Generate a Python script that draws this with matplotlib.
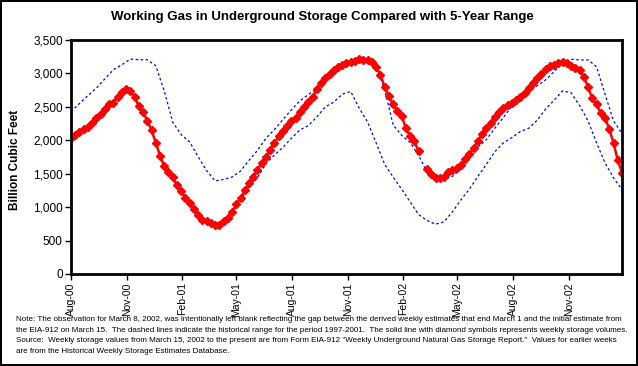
import numpy as np
import pandas as pd
import matplotlib
matplotlib.use("Agg")
import matplotlib.pyplot as plt
import matplotlib.dates as mdates
from matplotlib.ticker import MultipleLocator, FuncFormatter

# weekly Fridays, Aug 4 2000 .. Jan 31 2003 (Mar 8 2002 intentionally blank)
weeks = pd.date_range("2000-08-04", "2003-01-31", freq="7D")

storage = [
    2030, 2085, 2130, 2165, 2200, 2265, 2330, 2400, 2475, 2540,
    2565, 2645, 2715, 2760, 2740, 2650, 2510, 2420, 2295, 2150,
    1965, 1770, 1610, 1520, 1445, 1325, 1235, 1140, 1062, 968,
    885, 808, 795, 770, 735, 728, 790, 838, 930, 1040,
    1135, 1250, 1355, 1450, 1555, 1660, 1755, 1860, 1960, 2060,
    2135, 2218, 2288, 2339, 2419, 2500, 2580, 2650, 2760, 2850,
    2925, 2985, 3055, 3100, 3127, 3150, 3170, 3190, 3212, 3205,
    3202, 3172, 3095, 2980, 2800, 2660, 2540, 2440, 2368, 2180,
    2065, 1990, 1835, np.nan, 1566, 1490, 1435, 1431, 1456, 1521,
    1550, 1585, 1635, 1715, 1795, 1878, 1995, 2090, 2178, 2265,
    2344, 2420, 2488, 2530, 2555, 2605, 2645, 2705, 2775, 2855,
    2925, 2990, 3065, 3107, 3133, 3160, 3177, 3152, 3105, 3088,
    3055, 2950, 2790, 2625, 2540, 2404, 2335, 2170, 1960, 1700,
    1516,
]

# 5-year range (1997-2001), read every second week
range_weeks = weeks[::2]
range_max = [
    2429, 2550, 2670, 2780, 2920, 3055, 3130, 3215, 3205, 3205,
    3115, 2740, 2270, 2085, 1975, 1755, 1545, 1392, 1415, 1450,
    1540, 1700, 1850, 2030, 2160, 2310, 2455, 2590, 2685, 2765,
    2930, 3055, 3130, 3175, 3210, 3205, 3090, 2760, 2230, 2075,
    1968, 1775, 1525, 1398, 1422, 1460, 1570, 1730, 1900, 2010,
    2180, 2340, 2510, 2630, 2765, 2815, 2905, 3030, 3150, 3212,
    3202, 3202, 3100, 2690, 2290, 2100,
]
range_min = [
    2030, 2125, 2195, 2325, 2470, 2560, 2710, 2740, 2510, 2300,
    1975, 1610, 1445, 1235, 1065, 885, 795, 735, 790, 925,
    1110, 1300, 1440, 1650, 1780, 1895, 2030, 2155, 2220, 2350,
    2500, 2570, 2690, 2730, 2480, 2270, 1960, 1640, 1450, 1270,
    1080, 890, 800, 745, 780, 930, 1110, 1270, 1460, 1640,
    1830, 1960, 2040, 2130, 2180, 2300, 2470, 2600, 2740, 2710,
    2520, 2290, 1960, 1660, 1440, 1260,
]

TITLE = "Working Gas in Underground Storage Compared with 5-Year Range"
NOTE = ("Note: The observation for March 8, 2002, was intentionally left blank reflecting the gap between the derived weekly estimates that end March 1 and the initial estimate from\n"
        "the EIA-912 on March 15.  The dashed lines indicate the historical range for the period 1997-2001.  The solid line with diamond symbols represents weekly storage volumes.\n"
        "Source:  Weekly storage values from March 15, 2002 to the present are from Form EIA-912 \"Weekly Underground Natural Gas Storage Report.\"  Values for earlier weeks\n"
        "are from the Historical Weekly Storage Estimates Database.")

plt.rcParams['font.family'] = ['Liberation Sans', 'DejaVu Sans']

fig = plt.figure(figsize=(6.38, 3.66), dpi=100)
fig.patch.set_facecolor('white')
fig.patch.set_edgecolor('black')
fig.patch.set_linewidth(1.5)

ax = fig.add_axes([71 / 638, 1 - 274 / 366, 551 / 638, 234 / 366])

dash = (0, (2.0, 2.0))
ax.plot(range_weeks, range_max, color='#0000FF', lw=0.9, linestyle=dash)
ax.plot(range_weeks, range_min, color='#0000FF', lw=0.9, linestyle=dash)
ax.plot(weeks, storage, color='#FF0000', lw=1.8, marker='D', markersize=4.4,
        markerfacecolor='#FF0000', markeredgecolor='#FF0000')

ax.set_xlim(weeks[0], weeks[-1])
ax.set_ylim(0, 3500)
ax.yaxis.set_major_locator(MultipleLocator(500))
ax.yaxis.set_major_formatter(FuncFormatter(lambda v, p: f"{int(v):,}"))
ax.xaxis.set_major_locator(mdates.MonthLocator(bymonth=(2, 5, 8, 11), bymonthday=4))
ax.xaxis.set_major_formatter(mdates.DateFormatter('%b-%y'))

for s in ax.spines.values():
    s.set_linewidth(2)
    s.set_color('black')
ax.tick_params(axis='y', direction='out', length=4, width=1, labelsize=8.5, pad=2)
ax.tick_params(axis='x', direction='out', length=4, width=1, labelsize=7.5,
               labelrotation=90, pad=2)

fig.text(322 / 638, 1 - 17 / 366, TITLE, ha='center', va='center',
         fontsize=9.5, fontweight='bold')
fig.text(15 / 638, 1 - 160 / 366, "Billion Cubic Feet", ha='center', va='center',
         rotation=90, fontsize=8.5, fontweight='bold')
fig.text(16 / 638, 1 - 316 / 366, NOTE, ha='left', va='top', fontsize=5.75,
         linespacing=1.75)

fig.savefig("out.png", dpi=100)
